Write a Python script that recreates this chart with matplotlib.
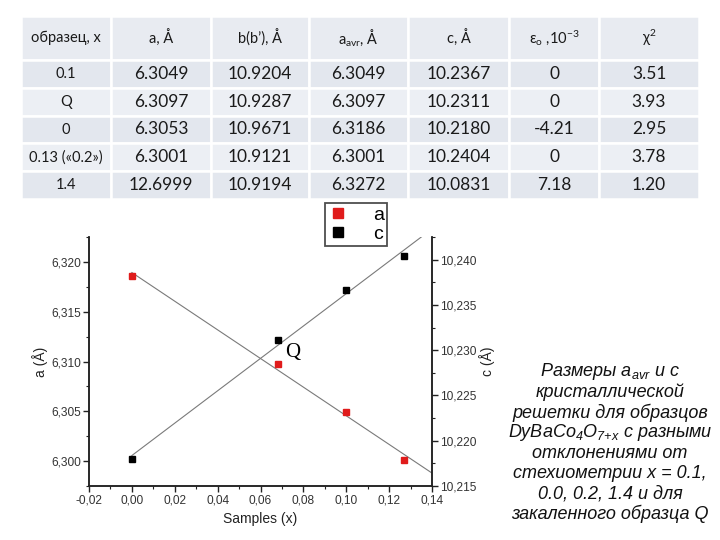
import matplotlib
matplotlib.use("Agg")
import matplotlib.pyplot as plt
from matplotlib.ticker import MultipleLocator, FuncFormatter
import numpy as np

# table data
headers = ["образец, x", "a, Å", "b(b\u2019), Å", "a$_{\\mathregular{avr}}$, Å", "c, Å",
           "ε$_{\\mathregular{o}}$ ,10$^{\\mathregular{-3}}$", "χ$^{\\mathregular{2}}$"]
samples = ["0.1", "Q", "0", "0.13 («0.2»)", "1.4"]
a_vals = ["6.3049", "6.3097", "6.3053", "6.3001", "12.6999"]
b_vals = ["10.9204", "10.9287", "10.9671", "10.9121", "10.9194"]
aavr_vals = ["6.3049", "6.3097", "6.3186", "6.3001", "6.3272"]
c_vals = ["10.2367", "10.2311", "10.2180", "10.2404", "10.0831"]
eps_vals = ["0", "0", "-4.21", "0", "7.18"]
chi2_vals = ["3.51", "3.93", "2.95", "3.78", "1.20"]

# plot data
x_pts = [0.0, 0.068, 0.1, 0.127]
a_pts = [6.3186, 6.3097, 6.3049, 6.3001]
c_pts = [10.2180, 10.2311, 10.2367, 10.2404]

caption = ["Размеры $a_{avr}$ и с",
           "кристаллической",
           "решетки для образцов",
           "DyBaCo$_{4}$O$_{7{+}x}$ с разными",
           "отклонениями от",
           "стехиометрии x = 0.1,",
           "0.0, 0.2, 1.4 и для",
           "закаленного образца Q"]

plt.rcParams['mathtext.fontset'] = 'custom'
plt.rcParams['mathtext.it'] = 'Liberation Sans:italic'
plt.rcParams['mathtext.rm'] = 'Liberation Sans:italic'

fig = plt.figure(figsize=(7.2, 5.4), dpi=100)

# ---- table ----
tax = fig.add_axes([21/720, 1 - 199/540, 678/720, 183/540])
tax.axis('off')
rows = list(zip(samples, a_vals, b_vals, aavr_vals, c_vals, eps_vals, chi2_vals))
col_w = np.array([90, 100, 98, 99, 101, 90, 100], dtype=float)
col_w = col_w / col_w.sum()
tbl = tax.table(cellText=[list(r) for r in rows], colLabels=headers,
                colWidths=list(col_w), bbox=[0, 0, 1, 1], cellLoc='center')
tbl.auto_set_font_size(False)
head_h = 44 / 183
row_h = (1 - head_h) / len(rows)
for (r, c), cell in tbl.get_celld().items():
    cell.set_edgecolor('white')
    cell.set_linewidth(1.8)
    txt = cell.get_text()
    txt.set_family('Lato')
    txt.set_color('#1a1a1a')
    if r == 0:
        cell.set_height(head_h)
        cell.set_facecolor('#e8ebf1')
        txt.set_fontsize(10.5)
    else:
        cell.set_height(row_h)
        cell.set_facecolor('#e3e7ee' if r % 2 else '#eceff4')
        txt.set_fontsize(10.5 if c == 0 else 12.5)

# ---- chart ----
ax = fig.add_axes([89/720, 1 - 486/540, 343/720, 249/540])
ax2 = ax.twinx()

xs = np.array([0.0, 0.14])
ka = np.polyfit(x_pts, a_pts, 1)
kc = np.polyfit(x_pts, c_pts, 1)
ax.plot(xs, np.polyval(ka, xs), color='#7a7a7a', lw=0.8, zorder=1)
ax2.plot(xs, np.polyval(kc, xs), color='#7a7a7a', lw=0.8, zorder=1)
ha, = ax.plot(x_pts, a_pts, 's', color='#e01b1b', ms=4.2, ls='none', label='a', zorder=3)
hc, = ax2.plot(x_pts, c_pts, 's', color='black', ms=4.2, ls='none', label='c', zorder=3)

ax.set_xlim(-0.02, 0.14)
ax.set_ylim(6.2975, 6.3225)
ax2.set_ylim(10.215, 10.2425)

comma = lambda fmt: FuncFormatter(lambda v, p: (fmt % v).replace('.', ','))
ax.xaxis.set_major_locator(MultipleLocator(0.02))
ax.xaxis.set_minor_locator(MultipleLocator(0.01))
ax.xaxis.set_major_formatter(comma('%.2f'))
ax.yaxis.set_major_locator(MultipleLocator(0.005))
ax.yaxis.set_minor_locator(MultipleLocator(0.0025))
ax.yaxis.set_major_formatter(comma('%.3f'))
ax2.yaxis.set_major_locator(MultipleLocator(0.005))
ax2.yaxis.set_minor_locator(MultipleLocator(0.0025))
ax2.yaxis.set_major_formatter(comma('%.3f'))

for a_ in (ax, ax2):
    a_.spines['top'].set_visible(False)
    for s in a_.spines.values():
        s.set_linewidth(1.1)
        s.set_color('#222222')
    a_.tick_params(which='major', direction='out', length=4, width=1, labelsize=8.6,
                   labelcolor='#333333', colors='#222222', pad=2)
    a_.tick_params(which='minor', direction='out', length=2.5, width=0.8, colors='#222222')
    for lab in a_.get_xticklabels() + a_.get_yticklabels():
        lab.set_family('Liberation Sans')

ax.set_xlabel('Samples (x)', fontsize=10, family='Liberation Sans', color='#222222', labelpad=4)
ax.set_ylabel('a (Å)', fontsize=10, family='Liberation Sans', color='#222222', labelpad=2)
ax2.set_ylabel('c (Å)', fontsize=10, family='Liberation Sans', color='#222222', labelpad=2)

ax.text(0.0748, 6.3109, 'Q', family='Liberation Serif', fontsize=15, ha='center', va='center')

leg = fig.legend([ha, hc], ['a', 'c'], loc='upper left', bbox_to_anchor=(325/720, 1 - 203/540),
                 prop={'family': 'Liberation Sans', 'size': 14}, frameon=True, fancybox=False,
                 markerscale=1.7, handlelength=1.0, handletextpad=1.3, labelspacing=0.1,
                 borderpad=0.15, borderaxespad=0)
leg.get_frame().set_edgecolor('#222222')
leg.get_frame().set_linewidth(1.3)

# ---- caption ----
y0 = 1 - 372/540
for i, line in enumerate(caption):
    fig.text(610/720, y0 - i * 20.3/540, line, ha='center', va='center', fontsize=13,
             style='italic', family='Liberation Sans', color='#111111')

fig.savefig('out.png', dpi=100)
